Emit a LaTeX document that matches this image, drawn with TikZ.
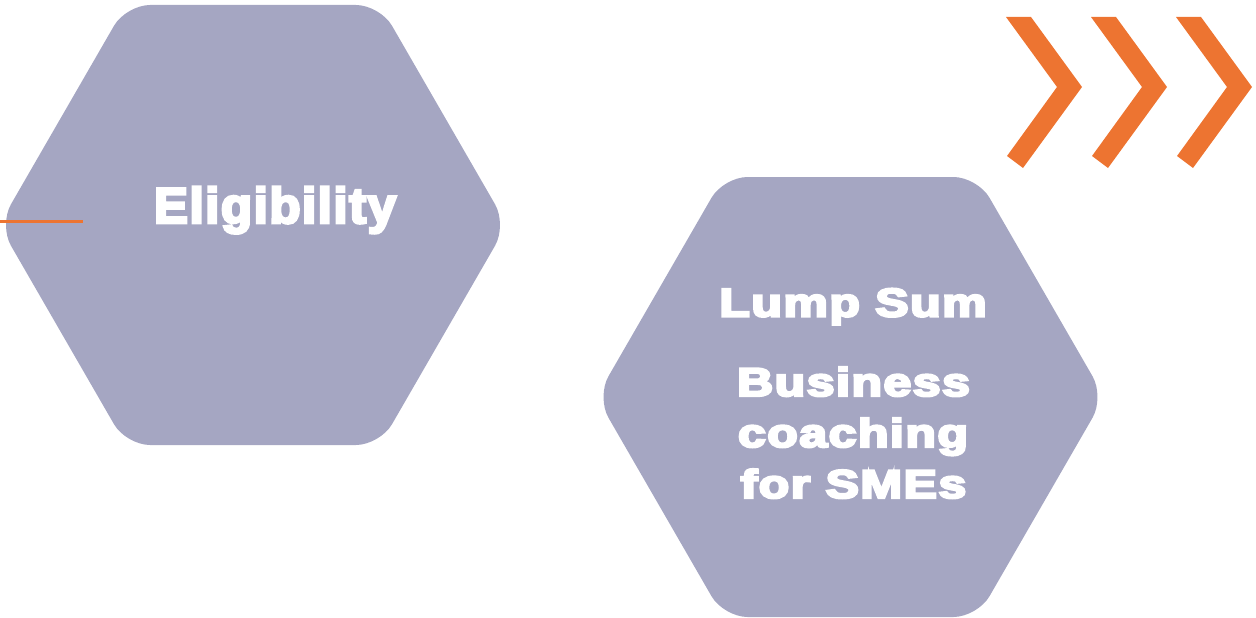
\documentclass[tikz,border=0pt]{standalone}
\usepackage{fontspec}
\usetikzlibrary{calc}
\newfontfamily\heavy{Liberation Sans Bold}[FakeBold=5.5,LetterSpace=3]
\definecolor{hexcol}{RGB}{165,166,194}
\definecolor{chevcol}{RGB}{237,116,49}
\newcommand\hexagonat[1]{%
  \fill[hexfill] ($(#1)+(0,-220)$) -- ($(#1)+(127,-220)$) -- ($(#1)+(254,0)$)
    -- ($(#1)+(127,220)$) -- ($(#1)+(-127,220)$) -- ($(#1)+(-254,0)$)
    -- ($(#1)+(-127,-220)$) -- cycle;}
\begin{document}
\begin{tikzpicture}[x=1pt,y=-1pt,
  hexfill/.style={fill=hexcol, rounded corners=24pt},
  chev/.style={fill=chevcol},
  bigtxt/.style={text=white, inner sep=0pt, anchor=base, font=\heavy\fontsize{50}{58}\selectfont},
  midtxt/.style={text=white, inner sep=0pt, anchor=base, font=\heavy\fontsize{40}{47}\selectfont},
  accent/.style={draw=chevcol, line width=3pt}]
\useasboundingbox (0,0) rectangle (1256,618);
% hexagons
\coordinate (h1) at (253,225);
\coordinate (h2) at (850.5,397);
\hexagonat{h1}
\hexagonat{h2}
% accent line
\coordinate (lstart) at (0,221.5);
\coordinate (lend) at (83,221.5);
\draw[accent] (lstart) -- (lend);
% chevrons
\foreach \i in {0,1,2}{
  \begin{scope}[xshift=85*\i]
    \fill[chev] (1006,17) -- (1031,17) -- (1082,87) -- (1023,168) -- (1007,156) -- (1057,87) -- cycle;
  \end{scope}
}
% texts
\node[bigtxt] (elig) at (275,223) {\scalebox{1.02}[1]{Eligibility}};
\node[midtxt] (lump) at (853,316.5) {\scalebox{1.25}[1]{Lump Sum}};
\node[midtxt] (bus) at (853.5,396) {\scalebox{1.25}[1]{Business}};
\node[midtxt] (coach) at (853,447) {\scalebox{1.25}[1]{coaching}};
\node[midtxt] (sme) at (853.5,498) {\scalebox{1.25}[1]{for SMEs}};
\end{tikzpicture}
\end{document}
